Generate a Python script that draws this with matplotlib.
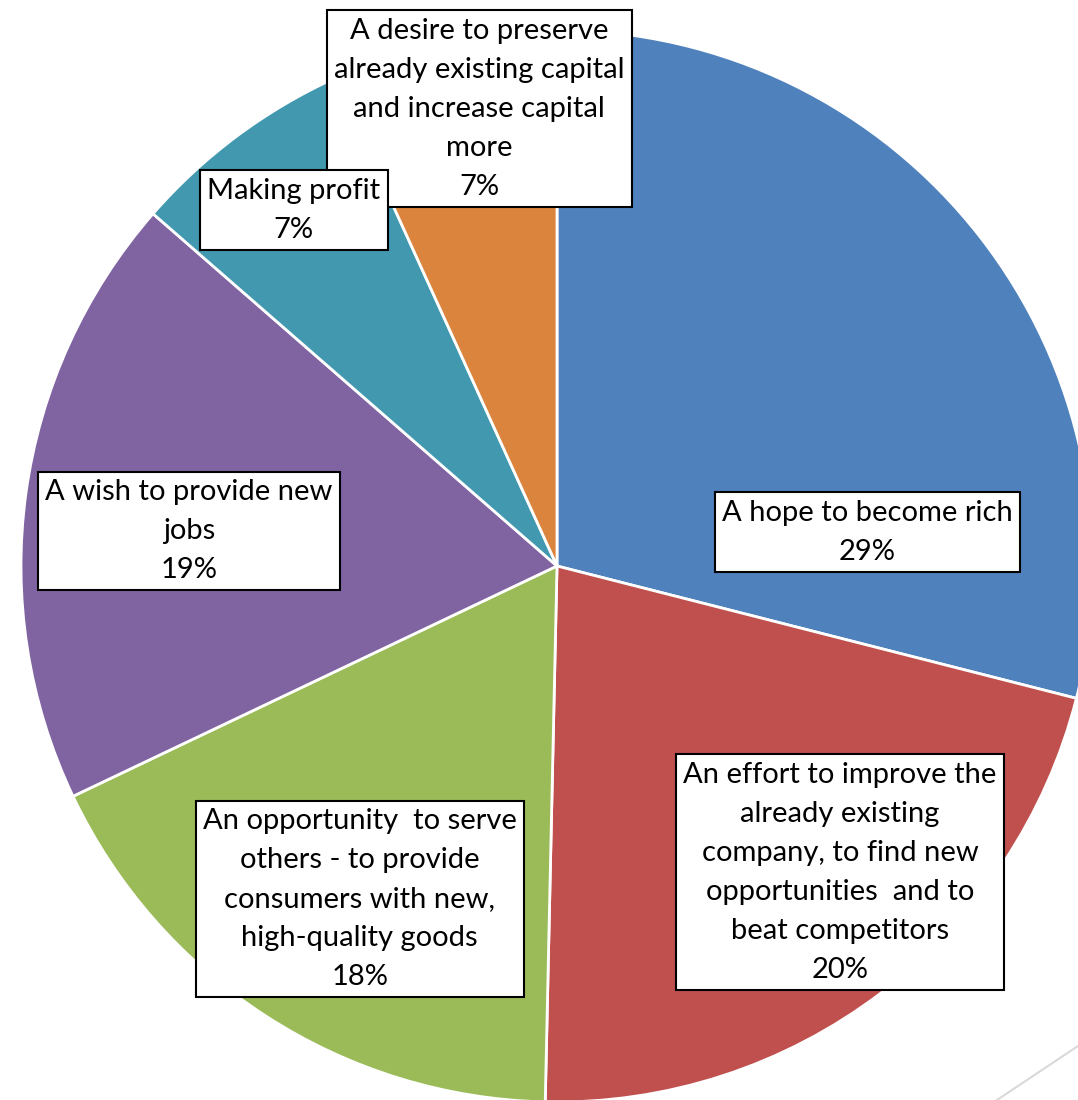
import matplotlib.pyplot as plt
from matplotlib.lines import Line2D

plt.rcParams['font.family'] = ['Lato', 'DejaVu Sans']

# motives, clockwise from 12 o'clock
categories = [
    "A hope to become rich",
    "An effort to improve the\nalready existing\ncompany, to find new\nopportunities  and to\nbeat competitors",
    "An opportunity  to serve\nothers - to provide\nconsumers with new,\nhigh-quality goods",
    "A wish to provide new\njobs",
    "Making profit",
    "A desire to preserve\nalready existing capital\nand increase capital\nmore",
]
shares = [29.0, 21.4, 17.6, 18.5, 6.8, 6.8]          # wedge sizes as drawn
pct_labels = ["29%", "20%", "18%", "19%", "7%", "7%"]  # printed percentages
colors = ["#4F81BD", "#C0504D", "#9BBB59", "#8064A2", "#4198AF", "#DB843D"]

# label box centres, in units of the pie radius relative to the centre
label_pos = [(0.579, 0.063), (0.528, -0.571), (-0.368, -0.621),
             (-0.687, 0.065), (-0.491, 0.664), (-0.145, 0.853)]
label_z = [5, 5, 5, 5, 7, 6]   # "Making profit" box sits on top of its neighbour

W, H = 1078, 1100
cx, cy, r = 557, 566, 536

fig = plt.figure(figsize=(W / 100, H / 100), dpi=100)
ax = fig.add_axes([0, 0, 1, 1])
ax.pie(shares, colors=colors, startangle=90, counterclock=False, radius=1,
       wedgeprops=dict(edgecolor="white", linewidth=2))
ax.set_xlim(-cx / r, (W - cx) / r)
ax.set_ylim(-(H - cy) / r, cy / r)
ax.set_aspect("equal")
ax.axis("off")

for cat, pct, (x, y), z in zip(categories, pct_labels, label_pos, label_z):
    ax.text(x, y, f"{cat}\n{pct}", ha="center", va="center", multialignment="center",
            fontsize=21, linespacing=1.62, color="black", zorder=z,
            bbox=dict(boxstyle="square,pad=0.25", facecolor="white", edgecolor="black", linewidth=1.5))

# faint stray line in the lower right corner
fig.add_artist(Line2D([997 / W, 1.0], [0.0, 54 / H], color="#D9D9D9", linewidth=1.5,
                      transform=fig.transFigure))

fig.savefig("out.png", dpi=100)
